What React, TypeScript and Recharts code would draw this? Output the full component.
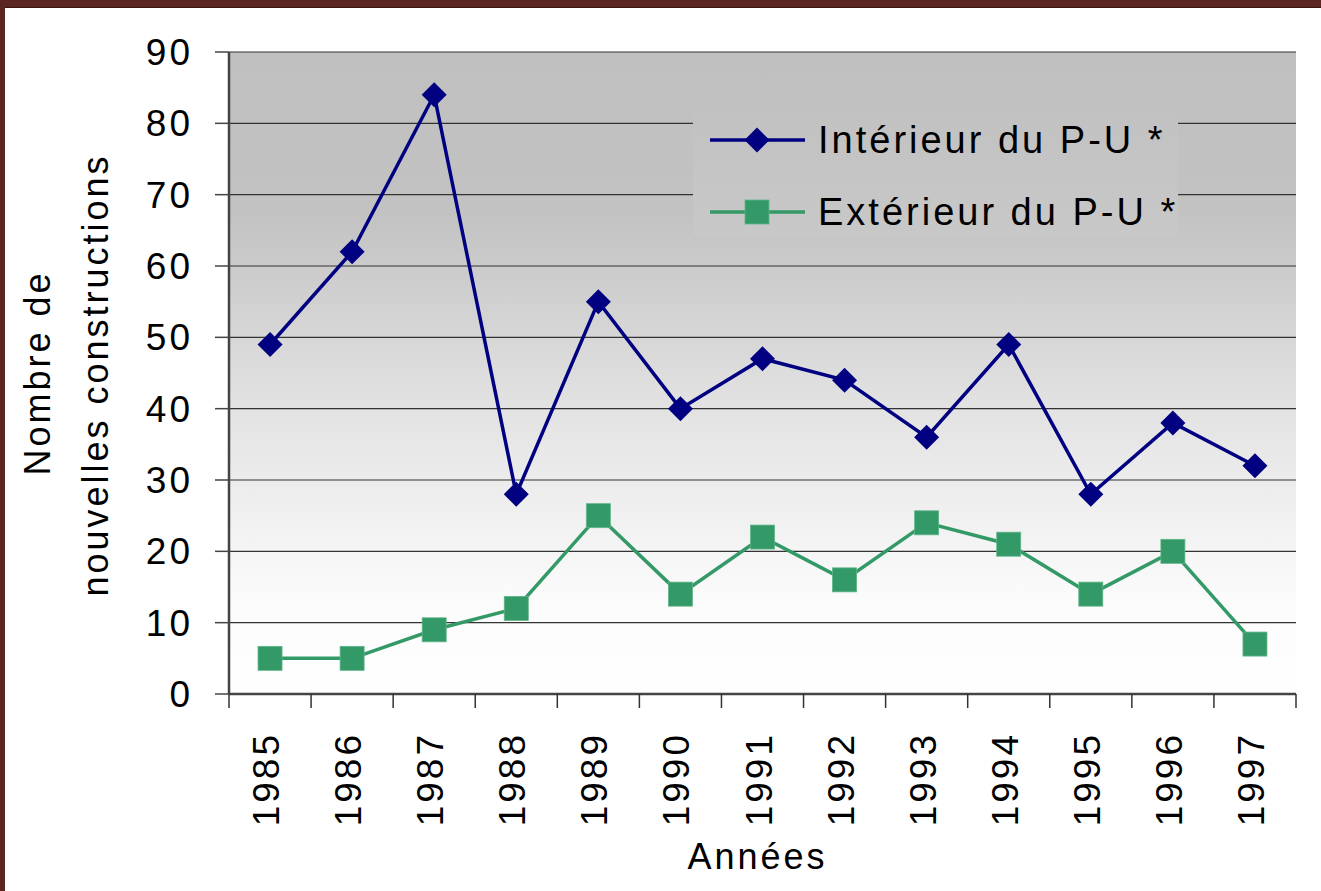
import React from "react";
import { CartesianGrid, ComposedChart, Legend, Line, XAxis, YAxis } from "recharts";

const years = ["1985", "1986", "1987", "1988", "1989", "1990", "1991", "1992", "1993", "1994", "1995", "1996", "1997"];
const interieur = [49, 62, 84, 28, 55, 40, 47, 44, 36, 49, 28, 38, 32];
const exterieur = [5, 5, 9, 12, 25, 14, 22, 16, 24, 21, 14, 20, 7];
const yTicks = [0, 10, 20, 30, 40, 50, 60, 70, 80, 90];
const seriesOrder = ["interieur", "exterieur"];

const NAVY = "#000080";
const GREEN = "#339966";
const FONT = "'Liberation Sans', Arial, sans-serif";

const data = years.map((year, i) => ({
  year,
  interieur: interieur[i],
  exterieur: exterieur[i],
}));

function Diamond(props: any) {
  const { cx, cy } = props;
  if (cx == null || cy == null) return null;
  return <polygon points={`${cx},${cy - 12.5} ${cx + 12.5},${cy} ${cx},${cy + 12.5} ${cx - 12.5},${cy}`} fill={NAVY} />;
}

function Square(props: any) {
  const { cx, cy } = props;
  if (cx == null || cy == null) return null;
  return <rect x={cx - 12} y={cy - 12} width={24} height={24} fill={GREEN} stroke="#5fb58a" strokeWidth={0.8} />;
}

// year label rotated, plus tick marks on the band edges
function YearTick(props: any) {
  const { x, y, payload, index, visibleTicksCount } = props;
  const half = payload.offset ?? 0;
  const tx = x + 9;
  const ty = y + 38;
  return (
    <g>
      <line x1={x - half} x2={x - half} y1={y} y2={y + 14} stroke="#333" strokeWidth={1.5} />
      {index === visibleTicksCount - 1 && (
        <line x1={x + half} x2={x + half} y1={y} y2={y + 14} stroke="#333" strokeWidth={1.5} />
      )}
      <text
        x={tx}
        y={ty}
        transform={`rotate(-90 ${tx} ${ty})`}
        textAnchor="end"
        fontSize={37}
        letterSpacing={3}
        fontFamily={FONT}
        fill="#000"
      >
        {payload.value}
      </text>
    </g>
  );
}

function LegendBox(props: any) {
  const items = [...(props.payload || [])].sort(
    (a: any, b: any) => seriesOrder.indexOf(a.dataKey) - seriesOrder.indexOf(b.dataKey)
  );
  return (
    <svg width={485} height={135} style={{ display: "block" }}>
      {items.map((item: any, i: number) => {
        const cy = 40 + i * 72;
        const color = item.color;
        return (
          <g key={item.value}>
            <line x1={17} x2={112} y1={cy} y2={cy} stroke={color} strokeWidth={3.5} />
            {item.dataKey === "interieur" ? (
              <polygon points={`64,${cy - 12.5} 76.5,${cy} 64,${cy + 12.5} 51.5,${cy}`} fill={color} />
            ) : (
              <rect x={52} y={cy - 12} width={24} height={24} fill={color} stroke="#5fb58a" strokeWidth={0.8} />
            )}
            <text x={125} y={cy + 13} fontSize={38} letterSpacing={3} fontFamily={FONT} fill="#000">
              {item.value}
            </text>
          </g>
        );
      })}
    </svg>
  );
}

function YLabel(props: any) {
  const { viewBox } = props;
  const cy = viewBox.y + viewBox.height / 2;
  return (
    <g fontFamily={FONT} fontSize={36} letterSpacing={3} fill="#000">
      <text x={50} y={cy} transform={`rotate(-90 50 ${cy})`} textAnchor="middle">
        Nombre de
      </text>
      <text x={108} y={cy + 2} transform={`rotate(-90 108 ${cy + 2})`} textAnchor="middle">
        nouvelles constructions
      </text>
    </g>
  );
}

function XLabel(props: any) {
  const { viewBox } = props;
  const cx = viewBox.x + viewBox.width / 2;
  return (
    <text x={cx - 5} y={869} textAnchor="middle" fontFamily={FONT} fontSize={36} letterSpacing={3} fill="#000">
      Années
    </text>
  );
}

export default function App() {
  return (
    <div style={{ position: "fixed", left: 0, top: 0, width: 1321, height: 891, background: "#fff" }}>
      <ComposedChart
        width={1321}
        height={891}
        data={data}
        margin={{ top: 52, right: 25, bottom: 0, left: 0 }}
      >
        <defs>
          <linearGradient id="plotBg" x1="0" y1="0" x2="0" y2="1">
            <stop offset="0%" stopColor="#c0c0c0" />
            <stop offset="25%" stopColor="#c2c2c2" />
            <stop offset="55%" stopColor="#e2e2e2" />
            <stop offset="85%" stopColor="#fbfbfb" />
            <stop offset="100%" stopColor="#ffffff" />
          </linearGradient>
        </defs>
        <CartesianGrid vertical={false} stroke="#333" strokeWidth={1.2} fill="url(#plotBg)" fillOpacity={1} />
        <XAxis
          dataKey="year"
          scale="band"
          height={197}
          interval={0}
          tickLine={false}
          tickSize={0}
          tickMargin={0}
          axisLine={{ stroke: "#444", strokeWidth: 2.5 }}
          tick={<YearTick />}
          label={<XLabel />}
        />
        <XAxis xAxisId="top" orientation="top" dataKey="year" scale="band" height={0} tick={false} tickLine={false} axisLine={{ stroke: "#888", strokeWidth: 3 }} />
        <YAxis
          domain={[0, 90]}
          ticks={yTicks}
          width={229}
          interval={0}
          tickSize={14}
          tickMargin={22}
          tickLine={{ stroke: "#444", strokeWidth: 1.5 }}
          axisLine={{ stroke: "#444", strokeWidth: 2.5 }}
          tick={{ fontSize: 37, fill: "#000", fontFamily: FONT, letterSpacing: 3 }}
          label={<YLabel />}
        />
        <YAxis yAxisId="right" orientation="right" width={0} domain={[0, 90]} tick={false} tickLine={false} axisLine={{ stroke: "#888", strokeWidth: 3 }} />
        <Legend
          layout="horizontal"
          verticalAlign="middle"
          align="center"
          content={<LegendBox />}
          wrapperStyle={{
            left: 693,
            top: 100,
            width: 485,
            height: 135,
            background: "linear-gradient(#c1c1c1, #c8c8c8)",
          }}
        />
        <Line
          name="Intérieur du P-U *"
          dataKey="interieur"
          stroke={NAVY}
          strokeWidth={3.5}
          dot={<Diamond />}
          activeDot={false}
          isAnimationActive={false}
        />
        <Line
          name="Extérieur du P-U *"
          dataKey="exterieur"
          stroke={GREEN}
          strokeWidth={3.5}
          dot={<Square />}
          activeDot={false}
          isAnimationActive={false}
        />
      </ComposedChart>
      <div style={{ position: "absolute", left: 0, top: 0, width: 1321, height: 7, background: "#5b2620", borderBottom: "1px solid #3a1510" }} />
      <div style={{ position: "absolute", left: 0, top: 0, width: 5, height: 891, background: "#5b2620" }} />
    </div>
  );
}
